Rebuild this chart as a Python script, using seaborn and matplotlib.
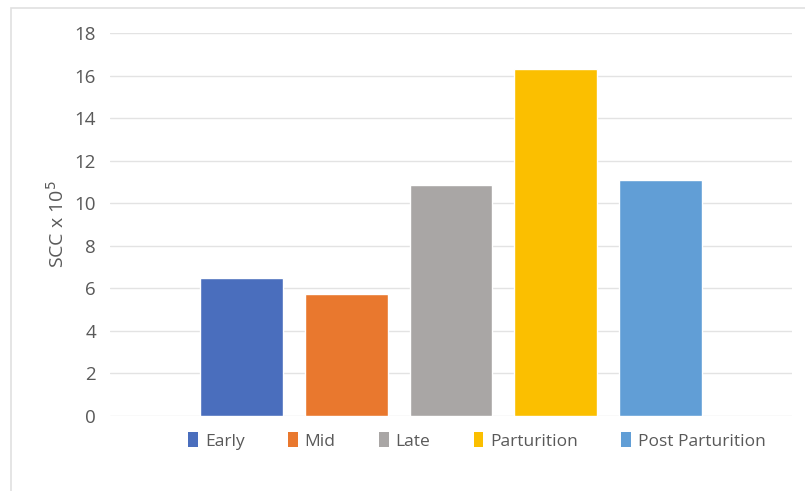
import matplotlib
matplotlib.use("Agg")
import matplotlib.pyplot as plt
import seaborn as sns
import pandas as pd
from matplotlib.patches import Patch, Rectangle

# Data
stages = ["Early", "Mid", "Late", "Parturition", "Post Parturition"]
scc_values = [6.47, 5.72, 10.85, 16.3, 11.08]
bar_colors = ["#4A6EBD", "#E9782E", "#A9A6A5", "#FBBF00", "#619ED6"]
y_ticks = [0, 2, 4, 6, 8, 10, 12, 14, 16, 18]

df = pd.DataFrame({"stage": stages, "scc": scc_values})

sns.set_style("white")
plt.rcParams["font.family"] = ["Open Sans", "DejaVu Sans"]

fig = plt.figure(figsize=(8.05, 4.91), dpi=100)
ax = fig.add_axes([110 / 805, 1 - 416 / 491, 682 / 805, 383 / 491])

sns.barplot(data=df, x="stage", y="scc", hue="stage", palette=bar_colors,
            width=0.79, dodge=False, legend=False, ax=ax, saturation=1)

ax.set_xlim(-1.25, 5.25)
ax.set_ylim(0, 18)
ax.set_yticks(y_ticks)
ax.yaxis.grid(True, color="#E3E3E3", linewidth=1)
ax.set_axisbelow(True)
for s in ax.spines.values():
    s.set_visible(False)
ax.set_xticks([])
ax.set_xlabel("")
ax.tick_params(axis="y", length=0, pad=10, labelsize=13.5, labelcolor="#595959")
ax.set_ylabel("SCC x 10$^5$", fontsize=14, color="#595959", labelpad=5)

handles = [Patch(facecolor=c, edgecolor="none") for c in bar_colors]
fig.legend(handles, stages, loc="center", bbox_to_anchor=(477 / 805, 1 - 441 / 491),
           ncol=5, frameon=False, fontsize=12.5, labelcolor="#595959",
           handlelength=0.55, handleheight=0.9, handletextpad=0.4, columnspacing=2.5)

# light chart-area frame (left and top edges visible)
fig.patches.append(Rectangle((11 / 805, -0.1), 1.2, 1 - 8 / 491 + 0.1,
                             transform=fig.transFigure, fill=False,
                             edgecolor="#E0E0E0", linewidth=1.2))

fig.savefig("out.png", dpi=100)
